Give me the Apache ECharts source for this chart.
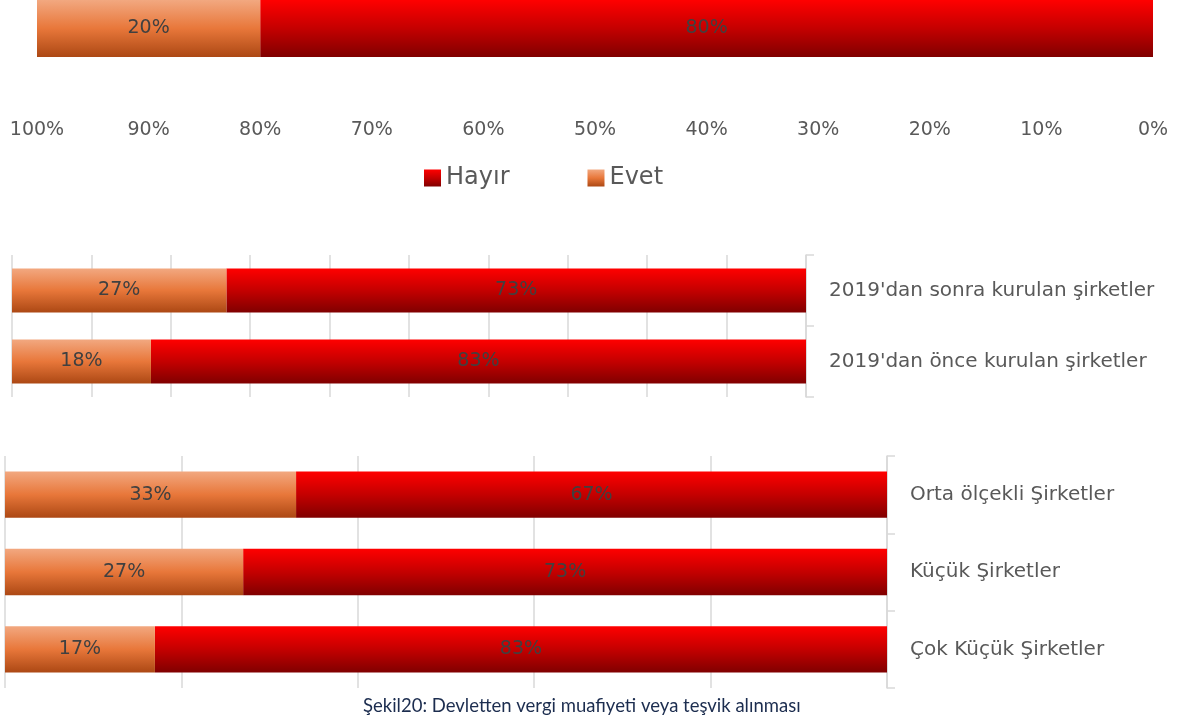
<!DOCTYPE html>
<html>
<head>
<meta charset="utf-8">
<script src="https://cdn.jsdelivr.net/npm/echarts@6/dist/echarts.min.js"></script>
<style>
html,body{margin:0;padding:0;background:#fff;}
#chart{width:1179px;height:721px;}
</style>
</head>
<body>
<div id="chart"></div>
<script>
// ---- data ----
const seriesNames = ['Hayır', 'Evet'];
const overallCategories = ['Toplam'];
const overallHayir = [80];
const overallEvet = [20];
const foundingCategories = ["2019'dan sonra kurulan şirketler", "2019'dan önce kurulan şirketler"];
const foundingHayir = [73, 82.5];
const foundingEvet = [27, 17.5];
const sizeCategories = ['Orta ölçekli Şirketler', 'Küçük Şirketler', 'Çok Küçük Şirketler'];
const sizeHayir = [67, 73, 83];
const sizeEvet = [33, 27, 17];
const captionText = 'Şekil20: Devletten vergi muafiyeti veya teşvik alınması';

// ---- styles ----
const FONT = 'DejaVu Sans';
const redGrad = new echarts.graphic.LinearGradient(0, 0, 0, 1, [
  { offset: 0, color: '#ff0000' },
  { offset: 0.5, color: '#c40000' },
  { offset: 1, color: '#800000' }
]);
const orangeGrad = new echarts.graphic.LinearGradient(0, 0, 0, 1, [
  { offset: 0, color: '#f2a880' },
  { offset: 0.5, color: '#e8773a' },
  { offset: 1, color: '#ac4814' }
]);
const labelStyle = {
  show: true,
  position: 'inside',
  color: '#404040',
  fontFamily: FONT,
  fontSize: 19,
  formatter: p => Math.round(p.value) + '%'
};
const gridLine = { show: true, lineStyle: { color: '#d9d9d9', width: 1.5 } };

function valueAxis(gridIndex, interval, showLabels, showSplit, margin) {
  return {
    type: 'value', gridIndex: gridIndex, min: 0, max: 100, interval: interval,
    inverse: true, position: 'bottom',
    axisLine: { show: false }, axisTick: { show: false },
    splitLine: showSplit ? gridLine : { show: false },
    axisLabel: {
      show: showLabels, formatter: '{value}%', color: '#595959',
      fontFamily: FONT, fontSize: 19, margin: margin || 8
    }
  };
}
function catAxis(gridIndex, data, show) {
  return {
    type: 'category', gridIndex: gridIndex, data: data, inverse: true,
    position: 'right', show: show,
    axisLine: { show: true, lineStyle: { color: '#d9d9d9', width: 1.5 } },
    axisTick: { show: true, length: 8, lineStyle: { color: '#d9d9d9', width: 1.5 } },
    axisLabel: { color: '#595959', fontFamily: FONT, fontSize: 20, margin: 23 }
  };
}
function pair(idx, hayir, evet, gap) {
  const base = { type: 'bar', stack: 'p' + idx, xAxisIndex: idx, yAxisIndex: idx, label: labelStyle, barCategoryGap: gap };
  const h = Object.assign({}, base, { name: seriesNames[0], data: hayir, itemStyle: { color: redGrad } });
  const e = Object.assign({}, base, { name: seriesNames[1], data: evet, itemStyle: { color: orangeGrad } });
  return [h, e];
}

const chart = echarts.init(document.getElementById('chart'));
chart.setOption({
  animation: false,
  backgroundColor: '#ffffff',
  title: {
    text: captionText, left: 358, top: 692,
    textStyle: { color: '#1c2d4f', fontFamily: 'Lato', fontSize: 18.5, fontWeight: 'normal' }
  },
  legend: {
    data: seriesNames, left: 419, top: 161, icon: 'rect',
    itemWidth: 17, itemHeight: 17, itemGap: 78,
    textStyle: { color: '#595959', fontFamily: FONT, fontSize: 24 }
  },
  grid: [
    { left: 37, right: 26, top: 0, height: 57 },
    { left: 12, right: 373, top: 255, height: 142 },
    { left: 5, right: 292, top: 456, height: 232 }
  ],
  xAxis: [
    valueAxis(0, 10, true, false, 64),
    valueAxis(1, 10, false, true),
    valueAxis(2, 20, false, true)
  ],
  yAxis: [
    catAxis(0, overallCategories, false),
    catAxis(1, foundingCategories, true),
    catAxis(2, sizeCategories, true)
  ],
  series: [].concat(
    pair(0, overallHayir, overallEvet, '0%'),
    pair(1, foundingHayir, foundingEvet, '38%'),
    pair(2, sizeHayir, sizeEvet, '40%')
  )
});
</script>
</body>
</html>
